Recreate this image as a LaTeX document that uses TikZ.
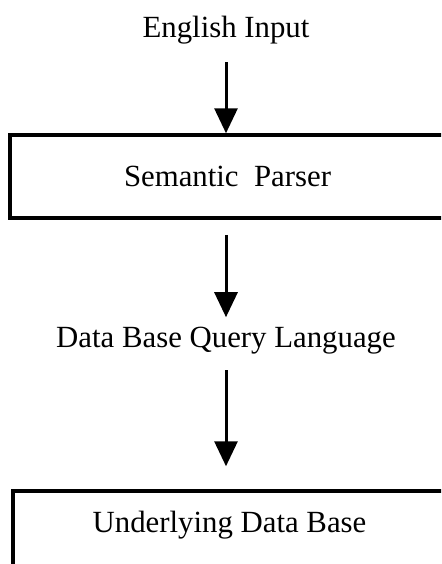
\documentclass[tikz,border=0pt]{standalone}
\usepackage{fontspec}
\setmainfont{Liberation Serif}
\usetikzlibrary{arrows.meta}
\begin{document}
\begin{tikzpicture}[x=0.5pt,y=-0.5pt,line join=miter,>={Triangle[width=11.5pt,length=12.5pt]}]
	\tikzset{every node/.style={font=\fontsize{15.4}{18}\selectfont,inner sep=0pt},
		stage/.style={draw,line width=1.75pt,minimum height=41.5pt},
		flow/.style={->,line width=1.5pt}}
	\useasboundingbox (0,0) rectangle (441,564);
	\clip (0,0) rectangle (441,564);
	\node[anchor=base] (input) at (226,37) {English Input};
	\node[stage,minimum width=217.5pt] (parser) at (227.5,176.5) {Semantic\ \ Parser};
	\node[anchor=base] (query) at (226,347) {Data Base Query Language};
	\node[stage,anchor=base,text height=20.5pt,text depth=25pt,minimum width=216.5pt] (db) at (229.5,532) {Underlying Data Base};
	\draw[flow,shorten <=9pt] (input.south) -- (input.south |- parser.north);
	\draw[flow,shorten <=7.5pt,shorten >=4.5pt] (input.south |- parser.south) -- (query.north);
	\draw[flow,shorten <=8pt,shorten >=11.5pt] (query.south) -- (query.south |- db.north);
\end{tikzpicture}
\end{document}
